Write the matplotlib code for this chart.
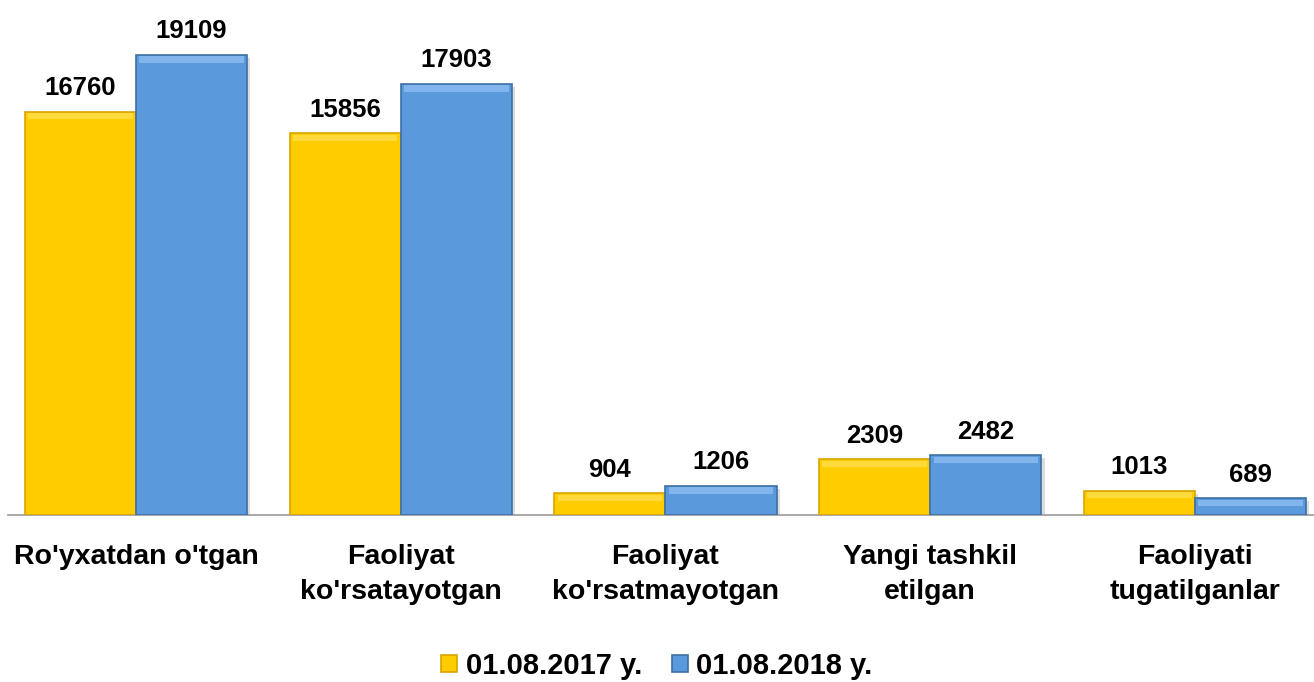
import matplotlib
matplotlib.use("Agg")
import matplotlib.pyplot as plt
import numpy as np

categories = ["Ro'yxatdan o'tgan", "Faoliyat\nko'rsatayotgan", "Faoliyat\nko'rsatmayotgan",
              "Yangi tashkil\netilgan", "Faoliyati\ntugatilganlar"]
series_names = ["01.08.2017 y.", "01.08.2018 y."]
values_2017 = [16760, 15856, 904, 2309, 1013]
values_2018 = [19109, 17903, 1206, 2482, 689]

plt.rcParams['font.family'] = ['Liberation Sans', 'DejaVu Sans']

fig = plt.figure(figsize=(13.14, 6.82), dpi=100)
ax_left = 3.6
ax_w = 1323.75
ax = fig.add_axes([ax_left/1314, 1 - 515/682, ax_w/1314, 515/682])

x = np.arange(len(categories))
w = 0.42
face = ["#FFCC00", "#5B99DD"]
edge = ["#D9A400", "#3E6FA6"]
light = ["#FFE566", "#9CC8F5"]

for i, (vals, off) in enumerate([(values_2017, -w/2), (values_2018, w/2)]):
    bars = ax.bar(x + off, vals, width=w, color=face[i], edgecolor=edge[i], linewidth=1.2,
                  label=series_names[i], zorder=3)
    ax.bar(x + off + 0.012, vals, width=w, color="#bbbbbb", alpha=0.5, zorder=2, bottom=-120)
    for b, v in zip(bars, vals):
        ax.bar(b.get_x() + w/2, 260, width=w*0.94, bottom=v - 320, color=light[i],
               alpha=0.6, zorder=4, linewidth=0)
        ax.text(b.get_x() + w/2, v + 480, f"{v}", ha="center", va="bottom",
                fontsize=18.5, fontweight="bold", color="black")

ax.set_xlim(-0.5, len(categories) - 0.5)
ax.set_ylim(0, 19109 * 515 / 460)
for s in ["top", "right", "left"]:
    ax.spines[s].set_visible(False)
ax.spines["bottom"].set_color("#999999")
ax.spines["bottom"].set_linewidth(1.2)
ax.spines["bottom"].set_bounds(-0.5 + 4.4 / 264.75, len(categories) - 0.5)
ax.set_yticks([])
ax.set_xticks(x)
ax.set_xticklabels(categories, fontsize=20.5, fontweight="bold", linespacing=1.42, va="top")
ax.tick_params(axis="x", length=0, pad=21)

leg = fig.legend(loc="center", bbox_to_anchor=(0.5, 1 - 666/682), ncol=2, frameon=False,
                 prop={"size": 21, "weight": "bold"}, handlelength=0.55, handleheight=0.55,
                 handletextpad=0.3, columnspacing=1.0)

fig.savefig("out.png", dpi=100)
